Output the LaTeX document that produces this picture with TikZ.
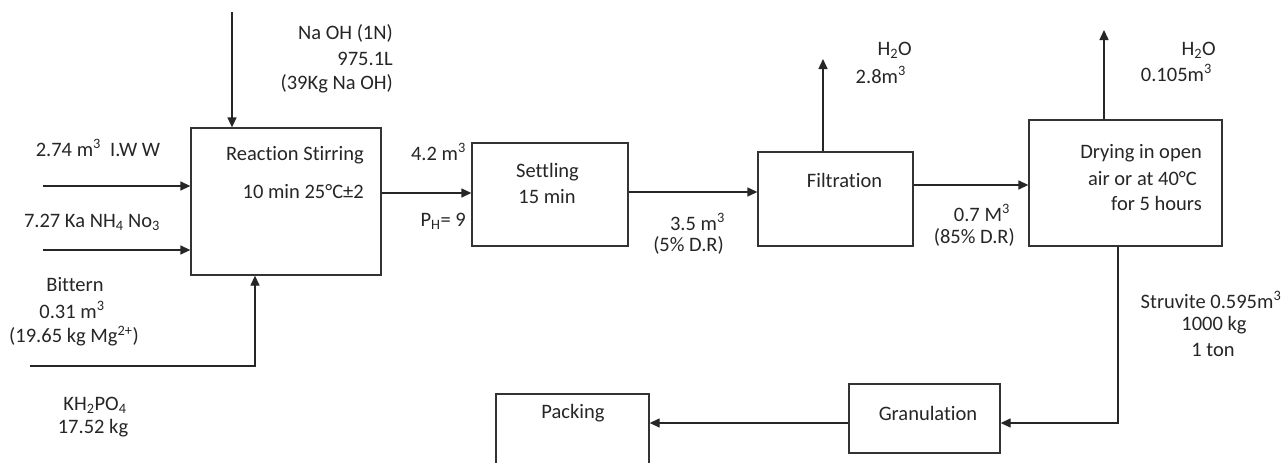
\documentclass[tikz,border=0pt]{standalone}
\usepackage{fontspec}
\setmainfont{Carlito}[Ligatures=NoCommon]
\usetikzlibrary{arrows.meta}
\tikzset{
  box/.style={draw=black!80, line width=1.3pt, fill=none, inner sep=0pt},
  conn/.style={draw=black!85, line width=1.3pt},
  arr/.style={conn, -{Triangle[length=10pt,width=9pt]}},
  lbl/.style={inner sep=0pt, text=black!85, font=\fontsize{20.5}{25}\selectfont},
}
\begin{document}
\begin{tikzpicture}[x=1pt,y=-1pt]
\clip (0,0) rectangle (1285,463);
\fill[white] (0,0) rectangle (1285,463);
% boxes
\node[box, minimum width=190pt, minimum height=147pt] (r) at (286,201.5) {};
\node[box, minimum width=156pt, minimum height=103pt] (s) at (550,194.5) {};
\node[box, minimum width=155pt, minimum height=94pt] (f) at (835.5,199) {};
\node[box, minimum width=193pt, minimum height=126pt] (d) at (1125.5,183) {};
\node[box, minimum width=151pt, minimum height=69pt] (g) at (924.5,418.5) {};
\node[box, minimum width=153pt, minimum height=90pt] (p) at (572.5,439) {};
% box texts
\node[lbl, anchor=east] (rt1) at (364,155) {Reaction Stirring};
\node[lbl, anchor=east] (rt2) at (364,192) {10 min 25°C±2};
\node[lbl] (st1) at (547.5,172) {Settling};
\node[lbl] (st2) at (547,197) {15 min};
\node[lbl] (ft) at (844.5,180) {Filtration};
\node[lbl, anchor=east] (dt1) at (1202,153) {Drying in open};
\node[lbl, anchor=east] (dt2) at (1197,179) {air or at 40°C};
\node[lbl, anchor=east] (dt3) at (1202,203) {for 5 hours};
\node[lbl] (gt) at (928,413) {Granulation};
\node[lbl] (pt) at (573,413) {Packing};
% input labels
\node[lbl, anchor=east] (na1) at (393,33) {Na OH (1N)};
\node[lbl, anchor=east] (na2) at (393,59) {975.1L};
\node[lbl, anchor=east] (na3) at (393,84) {(39Kg Na OH)};
\node[lbl] (iw) at (98,148) {2.74 m\textsuperscript{3}\ \ I.W W};
\node[lbl] (nh) at (92,222) {7.27 Ka NH\textsubscript{4} No\textsubscript{3}};
\node[lbl] (bi1) at (75,285) {Bittern};
\node[lbl] (bi2) at (72,310) {0.31 m\textsuperscript{3}};
\node[lbl] (bi3) at (74,336) {(19.65 kg Mg\textsuperscript{2+})};
\node[lbl] (kh1) at (95,405) {KH\textsubscript{2}PO\textsubscript{4}};
\node[lbl] (kh2) at (93,428) {17.52 kg};
\node[lbl, anchor=east] (v42) at (466,152) {4.2 m\textsuperscript{3}};
\node[lbl, anchor=east] (ph) at (466,221) {P\textsubscript{H}= 9};
\node[lbl, anchor=east] (v35) at (725,222) {3.5 m\textsuperscript{3}};
\node[lbl, anchor=east] (dr5) at (724,245) {(5\% D.R)};
\node[lbl, anchor=east] (w1a) at (912,50) {H\textsubscript{2}O};
\node[lbl, anchor=east] (w1b) at (906,75) {2.8m\textsuperscript{3}};
\node[lbl, anchor=east] (v07) at (1010,213) {0.7 M\textsuperscript{3}};
\node[lbl, anchor=east] (dr85) at (1015,237) {(85\% D.R)};
\node[lbl, anchor=east] (w2a) at (1216,50) {H\textsubscript{2}O};
\node[lbl, anchor=east] (w2b) at (1212,73) {0.105m\textsuperscript{3}};
\node[lbl] (sv1) at (1211,300) {Struvite 0.595m\textsuperscript{3}};
\node[lbl] (sv2) at (1214,325) {1000 kg};
\node[lbl] (sv3) at (1213,350) {1 ton};
% connector coordinates
\coordinate (naoh) at (232,12);
\coordinate (in1) at (43,186);
\coordinate (in2) at (43,250);
\coordinate (bit) at (30,366);
\coordinate (bitx) at (255,366);
\coordinate (rs) at (0,193);
\coordinate (sf) at (0,192);
\coordinate (fd) at (0,185);
\coordinate (fup) at (823,59);
\coordinate (dup) at (1104,30);
\coordinate (dcorner) at (1118,423);
\coordinate (gp) at (0,423);
% connectors
\draw[arr] (naoh) -- (naoh |- r.north);
\draw[arr] (in1) -- (r.west |- in1);
\draw[arr] (in2) -- (r.west |- in2);
\draw[arr] (bit) -- (bitx) -- (bitx |- r.south);
\draw[arr] (r.east |- rs) -- (s.west |- rs);
\draw[arr] (s.east |- sf) -- (f.west |- sf);
\draw[arr] (f.east |- fd) -- (d.west |- fd);
\draw[arr] (f.north -| fup) -- (fup);
\draw[arr] (d.north -| dup) -- (dup);
\draw[arr] (d.south -| dcorner) -- (dcorner) -- (g.east |- dcorner);
\draw[arr] (g.west |- gp) -- (p.east |- gp);
\end{tikzpicture}
\end{document}
